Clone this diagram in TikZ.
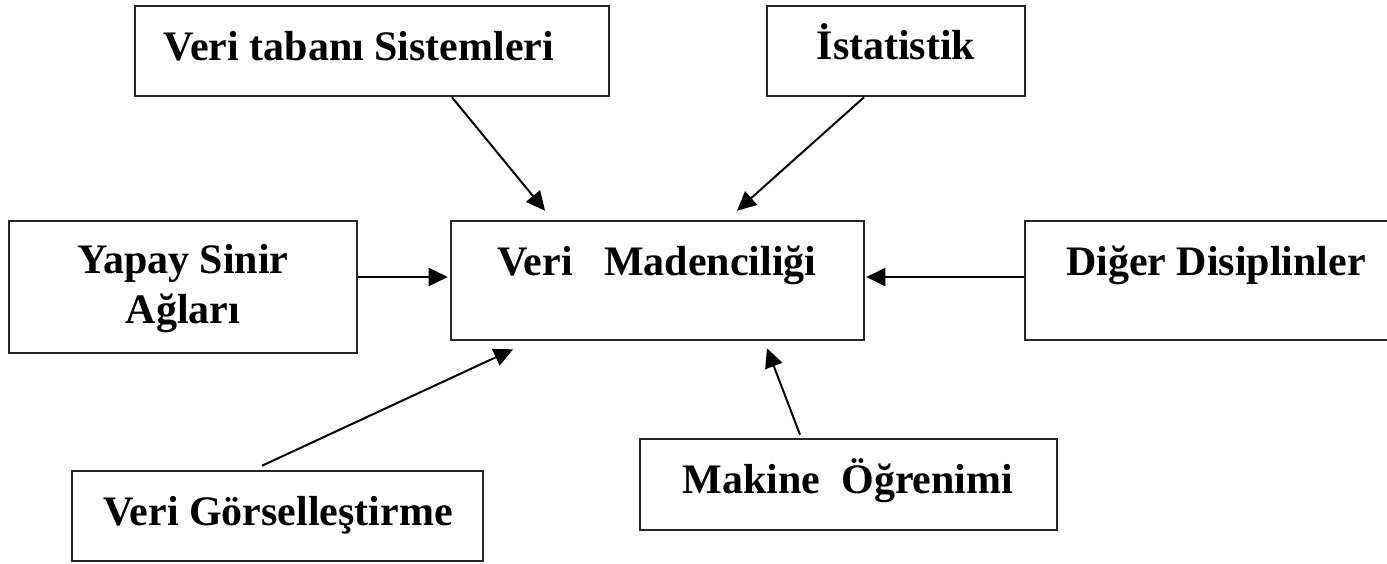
\documentclass[tikz,border=0pt]{standalone}
\usepackage{fontspec}
\setmainfont{Liberation Serif}
\usetikzlibrary{arrows.meta}
\tikzset{
  box/.style={draw=black!85, line width=2.6pt, rectangle, inner sep=0pt},
  txt/.style={anchor=base, inner sep=0pt, font=\fontsize{42}{50}\selectfont\bfseries, align=center},
  arr/.style={line width=2pt, -{Triangle[length=19pt,width=18pt]}},
}
\begin{document}
\begin{tikzpicture}[x=1pt,y=-1pt]
\useasboundingbox (0,0) rectangle (1387,563);
% boxes
\node[box, minimum width=474pt, minimum height=90pt] (vts) at (372,51) {};
\node[box, minimum width=258pt, minimum height=90pt] (ist) at (896,51) {};
\node[box, minimum width=348pt, minimum height=132pt] (ysa) at (183,287) {};
\node[box, minimum width=413pt, minimum height=119pt] (vm) at (657.5,280.5) {};
\node[box, minimum width=365pt, minimum height=119pt] (dd) at (1207.5,280.5) {};
\node[box, minimum width=411pt, minimum height=90pt] (vg) at (277.5,516) {};
\node[box, minimum width=417pt, minimum height=91pt] (mo) at (848.5,484.5) {};
% texts
\node[txt] (tvts) at (359,60) {Veri tabanı Sistemleri};
\node[txt] (tist) at (896,59) {İstatistik};
\node[txt] (tysa1) at (183,273) {Yapay Sinir};
\node[txt] (tysa2) at (183,323) {Ağları};
\node[txt] (tvm) at (657,275) {Veri~~~Madenciliği};
\node[txt] (tdd) at (1216,275) {Diğer Disiplinler};
\node[txt] (tvg) at (278,525) {Veri Görselleştirme};
\node[txt] (tmo) at (848,493) {Makine~~Öğrenimi};
% arrows
\draw[arr] ([xshift=80pt]vts.south) -- ([xshift=-112.5pt,yshift=9pt]vm.north);
\draw[arr] ([xshift=-32pt]ist.south) -- ([xshift=79.5pt,yshift=9pt]vm.north);
\draw[arr] ([yshift=10pt]ysa.east) -- ([xshift=-2pt,yshift=3.5pt]vm.west);
\draw[arr] ([yshift=3.5pt]dd.west) -- ([xshift=1pt,yshift=3.5pt]vm.east);
\draw[arr] ([xshift=-15.5pt,yshift=4pt]vg.north) -- ([xshift=-144.5pt,yshift=-8pt]vm.south);
\draw[arr] ([xshift=-48.5pt,yshift=3pt]mo.north) -- ([xshift=109.5pt,yshift=-7pt]vm.south);
\end{tikzpicture}
\end{document}
